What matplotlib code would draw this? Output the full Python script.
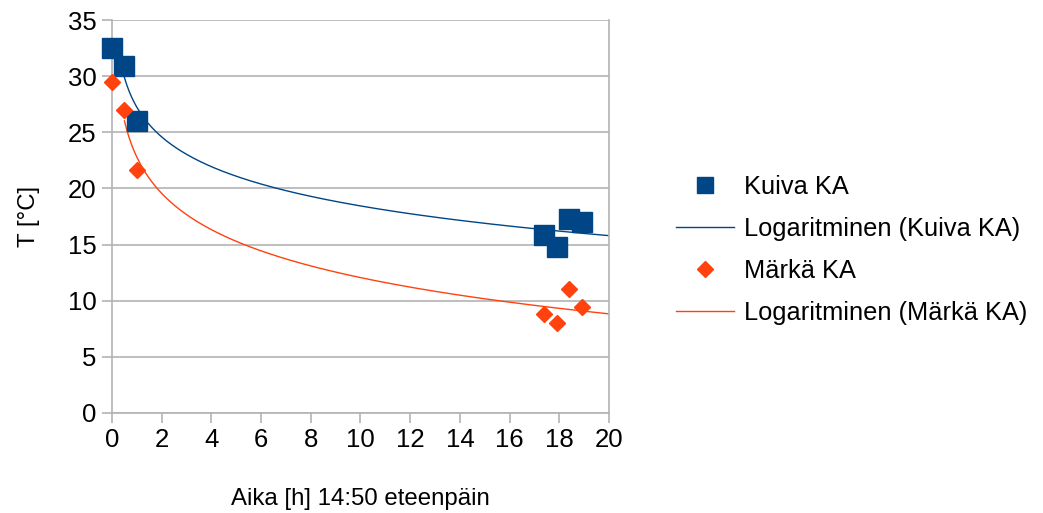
import numpy as np
import matplotlib.pyplot as plt

plt.rcParams['font.family'] = ['Liberation Sans', 'DejaVu Sans']

# Measurements, hours from 14:50
aika = [0, 0.5, 1, 17.4, 17.9, 18.4, 18.9]
kuiva = [32.5, 30.9, 26.0, 15.85, 14.75, 17.25, 17.03]
marka = [29.5, 27.0, 21.6, 8.79, 8.04, 11.04, 9.47]

x_ticks = list(range(0, 21, 2))
y_ticks = list(range(0, 36, 5))

blue = '#004586'
orange = '#ff420e'
grid = '#b3b3b3'


def log_trend(x, y):
    # least squares fit y = a*ln(x) + b, only x > 0 usable
    x = np.asarray(x, dtype=float)
    y = np.asarray(y, dtype=float)
    m = x > 0
    a, b = np.polyfit(np.log(x[m]), y[m], 1)
    xs = np.linspace(x[m].min(), 20, 400)
    return xs, a * np.log(xs) + b


fig = plt.figure(figsize=(10.43, 5.13), dpi=100)
ax = fig.add_axes([112 / 1043, 1 - 413 / 513, 497 / 1043, 393 / 513])

ax.set_xlim(0, 20)
ax.set_ylim(0, 35)
ax.set_xticks(x_ticks)
ax.set_yticks(y_ticks)
ax.yaxis.grid(True, color=grid, linewidth=1.2)
ax.set_axisbelow(True)
for side in ['left', 'right', 'bottom']:
    ax.spines[side].set_color(grid)
    ax.spines[side].set_linewidth(1.2)
ax.spines['top'].set_visible(False)
ax.tick_params(direction='out', length=7, width=1.2, color=grid,
               labelsize=18.5, pad=4)

ax.plot(aika, kuiva, 's', color=blue, markersize=14, clip_on=False,
        zorder=3, label='Kuiva KA')
xs, ys = log_trend(aika, kuiva)
ax.plot(xs, ys, color=blue, linewidth=1, zorder=2,
        label='Logaritminen (Kuiva KA)')

ax.plot(aika, marka, 'D', color=orange, markersize=8, clip_on=False,
        zorder=3, label='Märkä KA')
xs, ys = log_trend(aika, marka)
ax.plot(xs, ys, color=orange, linewidth=1, zorder=2,
        label='Logaritminen (Märkä KA)')

ax.set_xlabel('Aika [h] 14:50 eteenpäin', fontsize=17.3, labelpad=26)
ax.set_ylabel('T [°C]', fontsize=17.3, labelpad=20)

leg = ax.legend(loc='center left', bbox_to_anchor=(1.114, 0.415),
                frameon=False, fontsize=18.3, handlelength=2.3,
                handletextpad=0.4, labelspacing=0.7, borderaxespad=0)
# smaller square in the legend, diamond a touch bigger
leg.legend_handles[0].set_markersize(12)
leg.legend_handles[2].set_markersize(8.5)

fig.savefig('out.png', dpi=100)
